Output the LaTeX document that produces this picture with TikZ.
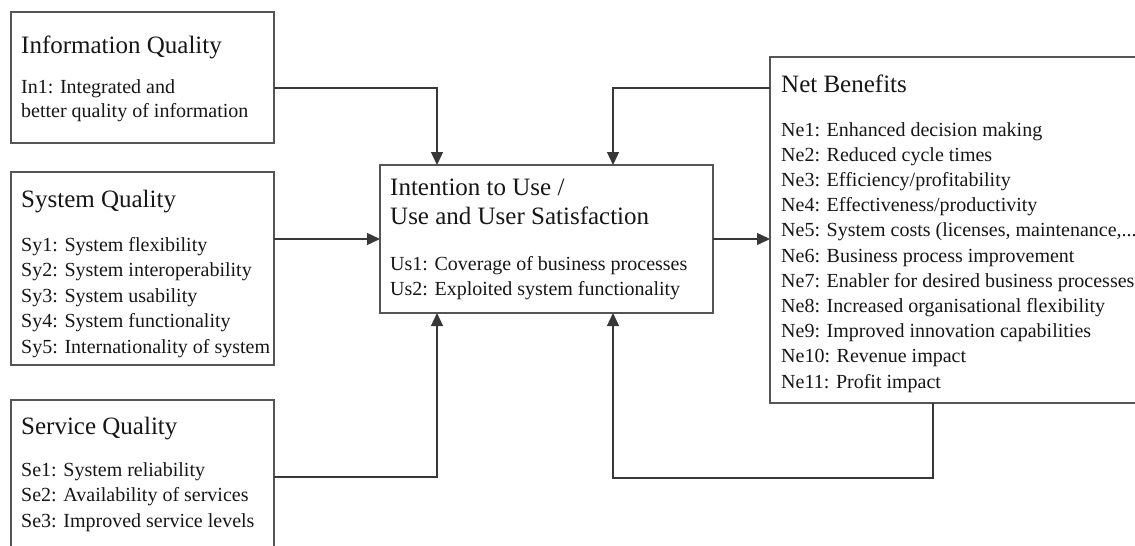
\documentclass[tikz,border=0pt]{standalone}
\usepackage{fontspec}
\setmainfont{Liberation Serif}
\usetikzlibrary{arrows.meta}
\definecolor{ink}{HTML}{161616}
\definecolor{frame}{HTML}{555555}
\definecolor{wire}{HTML}{383838}
\newcommand\costsline{Ne5: System costs (licenses, maintenance,...}
\begin{document}
\begin{tikzpicture}[x=1pt,y=-1pt,
  box/.style={draw=frame, line width=1.7pt, rectangle, inner sep=0pt, outer sep=0pt, anchor=north west},
  head/.style={anchor=base west, inner sep=0pt, text=ink, font=\fontsize{25}{30}\selectfont},
  item/.style={anchor=base west, inner sep=0pt, text=ink, font=\fontsize{20}{24}\selectfont},
  conn/.style={draw=wire, line width=1.3pt, -{Triangle[length=13pt,width=12pt]}},
]
\useasboundingbox (0,0) rectangle (1135,546);
\clip (0,0) rectangle (1135,546);

% frames
\node[box, minimum width=263pt, minimum height=131pt] (info) at (11,12) {};
\node[box, minimum width=263pt, minimum height=193pt] (sys) at (11,172) {};
\node[box, minimum width=263pt, minimum height=170pt] (serv) at (11,400) {};
\node[box, minimum width=333pt, minimum height=148pt] (center) at (380,165) {};
\node[box, minimum width=400pt, minimum height=346pt] (nb) at (770,57) {};

% Information Quality
\node[head] (infoT) at (21,53) {Information Quality};
\node[item] (in1) at (21,93) {In1: Integrated and};
\node[item] (in1b) at (21,117) {better quality of information};

% System Quality
\node[head] (sysT) at (21,207) {System Quality};
\foreach \t [count=\i from 0] in {Sy1: System flexibility, Sy2: System interoperability,
  Sy3: System usability, Sy4: System functionality, Sy5: Internationality of system}
  \node[item] (sy\i) at (21,251+25.5*\i) {\t};

% Service Quality
\node[head] (servT) at (21,434) {Service Quality};
\foreach \t [count=\i from 0] in {Se1: System reliability, Se2: Availability of services,
  Se3: Improved service levels}
  \node[item] (se\i) at (21,476+25.5*\i) {\t};

% Intention to Use / Use and User Satisfaction
\node[head] (cT1) at (390,195) {Intention to Use /};
\node[head] (cT2) at (390,224) {Use and User Satisfaction};
\node[item] (us1) at (390,270) {Us1: Coverage of business processes};
\node[item] (us2) at (390,295) {Us2: Exploited system functionality};

% Net Benefits
\node[head] (nbT) at (781,92) {Net Benefits};
\foreach \t [count=\i from 0] in {Ne1: Enhanced decision making, Ne2: Reduced cycle times,
  Ne3: Efficiency/profitability, Ne4: Effectiveness/productivity,
  \costsline, Ne6: Business process improvement,
  Ne7: Enabler for desired business processes, Ne8: Increased organisational flexibility,
  Ne9: Improved innovation capabilities, Ne10: Revenue impact, Ne11: Profit impact}
  \node[item] (ne\i) at (781,136+25.2*\i) {\t};

% connectors
\draw[conn] (info.east |- 0,88) -| (center.north -| 437,0);
\draw[conn] (nb.west |- 0,88) -| (center.north -| 613,0);
\draw[conn] (sys.east |- 0,239) -- (center.west |- 0,239);
\draw[conn] (serv.east |- 0,477) -| (center.south -| 437,0);
\draw[conn] (center.east |- 0,239) -- (nb.west |- 0,239);
\draw[conn] (nb.south -| 933,0) -- ++(0,75) -| (center.south -| 613,0);
\end{tikzpicture}
\end{document}
